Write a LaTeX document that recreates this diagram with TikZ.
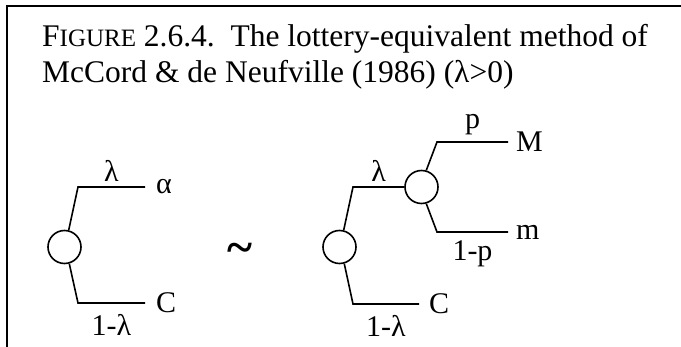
\documentclass[tikz,border=0pt]{standalone}
\usepackage{fontspec}
\setmainfont{Liberation Serif}
\usetikzlibrary{positioning}
\tikzset{
  chance/.style={circle, draw, minimum size=33pt, inner sep=0pt, line width=1.6pt},
  outcome/.style={font=\fontsize{30}{30}\selectfont, inner sep=0pt},
  prob/.style={font=\fontsize{30}{30}\selectfont, inner sep=0pt},
  branch/.style={line width=1.6pt},
  frameline/.style={line width=2.5pt},
  caption/.style={font=\fontsize{31.5}{31.5}\selectfont, inner sep=0pt, anchor=base west}
}

\begin{document}
\begin{tikzpicture}[x=1pt, y=-1pt]
  \useasboundingbox (0,0) rectangle (681,347);
  % frame
  \coordinate (ftop) at (681,6);
  \coordinate (fcorner) at (7,6);
  \coordinate (fbot) at (7,347);
  \draw[frameline] (ftop) -- (fcorner) -- (fbot);
  % caption
  \node[caption] (cap1) at (42,47) {F{\fontsize{25}{25}\selectfont IGURE} 2.6.4.\ \ The lottery-equivalent method of};
  \node[caption] (cap2) at (42,83) {McCord \& de Neufville (1986) (λ>0)};
  % left lottery
  \node[chance] (c1) at (64.5,247) {};
  \coordinate (k1u) at (78,187);
  \coordinate (e1u) at (145,187);
  \coordinate (k1d) at (78,303);
  \coordinate (e1d) at (145,303);
  \draw[branch] (c1.76) -- (k1u) -- node[prob, above=5pt] {λ} (e1u);
  \draw[branch] (c1.-74) -- (k1d) -- node[prob, below=11pt] {1-λ} (e1d);
  \node[outcome, right=11pt of e1u] (alpha) {α};
  \node[outcome, right=11pt of e1d] (C1) {C};
  % indifference
  \node[font=\bfseries\fontsize{48}{48}\selectfont, inner sep=0pt, anchor=base] (indiff) at (240,264) {\textasciitilde};
  % right lottery
  \node[chance] (c2) at (339.5,247) {};
  \node[chance] (c3) at (421.5,187) {};
  \coordinate (k2u) at (353,187);
  \coordinate (k2d) at (353,304);
  \coordinate (e2d) at (419,304);
  \draw[branch] (c2.76) -- (k2u) -- node[prob, above=5pt] {λ} (c3.west);
  \draw[branch] (c2.-74) -- (k2d) -- node[prob, below=11pt] {1-λ} (e2d);
  \node[outcome, right=10pt of e2d] (C2) {C};
  \coordinate (k3u) at (437,142);
  \coordinate (e3u) at (508,142);
  \coordinate (k3d) at (437,232);
  \coordinate (e3d) at (508,232);
  \draw[branch] (c3.74) -- (k3u) -- node[prob, above=6pt] {p} (e3u);
  \draw[branch] (c3.-74) -- (k3d) -- node[prob, below=8pt] {1-p} (e3d);
  \node[outcome, right=8pt of e3u] (M) {M};
  \node[outcome, right=8pt of e3d] (m) {m};
\end{tikzpicture}
\end{document}
